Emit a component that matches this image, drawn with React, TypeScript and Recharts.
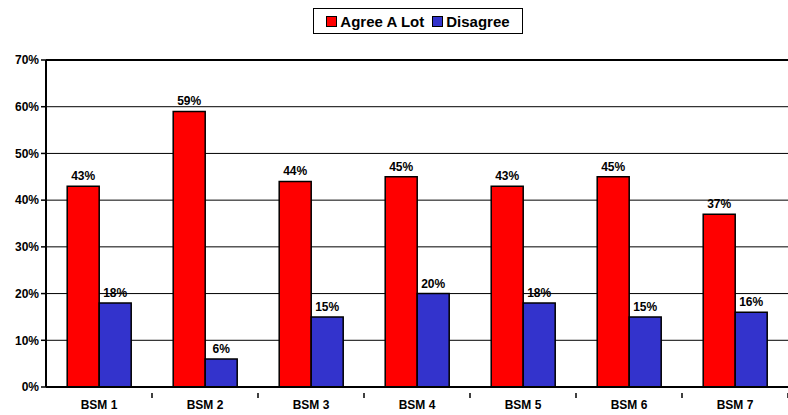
import React from 'react';
import { BarChart, Bar, XAxis, YAxis, CartesianGrid, LabelList, ReferenceLine } from 'recharts';

const categories = ['BSM 1', 'BSM 2', 'BSM 3', 'BSM 4', 'BSM 5', 'BSM 6', 'BSM 7'];
const agreeALot = [43, 59, 44, 45, 43, 45, 37];
const disagree = [18, 6, 15, 20, 18, 15, 16];
const yTicks = [0, 10, 20, 30, 40, 50, 60, 70];

const data = categories.map((name, i) => ({
  name,
  agree: agreeALot[i],
  disagree: disagree[i],
}));

const CHART_W = 788;
const CHART_H = 415;
const AXIS_W = 46;
const HALF_BAND = (CHART_W - AXIS_W) / categories.length / 2;

const font = '"Liberation Sans", Arial, sans-serif';

// category label plus a short tick mark on the boundary to its right
const CategoryTick = (props: any) => {
  const { x, y, payload } = props;
  return (
    <g>
      <line x1={x + HALF_BAND} y1={y - 2} x2={x + HALF_BAND} y2={y + 3} stroke="#000" strokeWidth={1.5} />
      <text x={x} y={y + 14} textAnchor="middle" fontSize={12} fontWeight="bold" fill="#000" fontFamily={font}>
        {payload.value}
      </text>
    </g>
  );
};

const pct = (v: any) => `${v}%`;

const Swatch = ({ color }: { color: string }) => (
  <span
    style={{
      display: 'inline-block',
      width: 9,
      height: 9,
      background: color,
      border: '1px solid #000',
      marginRight: 3,
    }}
  />
);

export default function App() {
  return (
    <div style={{ position: 'absolute', left: 0, top: 0, width: CHART_W, height: CHART_H, background: '#fff', fontFamily: font }}>
      <div
        style={{
          position: 'absolute',
          left: 313,
          top: 8,
          width: 208,
          height: 24,
          border: '1.5px solid #000',
          display: 'flex',
          alignItems: 'center',
          justifyContent: 'center',
          fontSize: 15,
          fontWeight: 'bold',
          zIndex: 2,
          background: '#fff',
        }}
      >
        <Swatch color="#ff0000" />
        <span style={{ marginRight: 8 }}>Agree A Lot</span>
        <Swatch color="#3333cc" />
        <span>Disagree</span>
      </div>
      <BarChart
        width={CHART_W}
        height={CHART_H}
        data={data}
        margin={{ top: 60, right: 0, left: 0, bottom: 0 }}
        barCategoryGap="20%"
        barGap={0}
      >
        <CartesianGrid vertical={false} stroke="#000" strokeWidth={1} />
        <YAxis
          width={AXIS_W}
          domain={[0, 70]}
          ticks={yTicks}
          tickFormatter={pct}
          axisLine={{ stroke: '#000', strokeWidth: 2 }}
          tickLine={{ stroke: '#000', strokeWidth: 1.5 }}
          tickSize={5}
          tick={{ fontSize: 12, fontWeight: 'bold', fill: '#000', fontFamily: font }}
        />
        <XAxis
          dataKey="name"
          height={28}
          axisLine={{ stroke: '#000', strokeWidth: 2 }}
          tickLine={false}
          tick={<CategoryTick />}
          interval={0}
        />
        <ReferenceLine y={70} stroke="#000" strokeWidth={2} />
        <Bar dataKey="agree" fill="#ff0000" stroke="#000" strokeWidth={1.5} isAnimationActive={false}>
          <LabelList dataKey="agree" position="top" offset={6} formatter={pct} style={{ fontSize: 12, fontWeight: 'bold', fill: '#000', fontFamily: font }} />
        </Bar>
        <Bar dataKey="disagree" fill="#3333cc" stroke="#000" strokeWidth={1.5} isAnimationActive={false}>
          <LabelList dataKey="disagree" position="top" offset={6} formatter={pct} style={{ fontSize: 12, fontWeight: 'bold', fill: '#000', fontFamily: font }} />
        </Bar>
      </BarChart>
    </div>
  );
}
